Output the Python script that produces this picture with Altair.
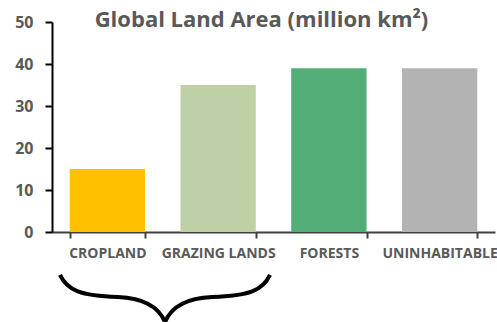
import altair as alt
import pandas as pd

categories = ["CROPLAND", "GRAZING LANDS", "FORESTS", "UNINHABITABLE"]
values = [15, 35, 39, 39]
colors = ["#FFC000", "#C0D0A6", "#52AE76", "#B3B3B3"]
y_ticks = [0, 10, 20, 30, 40, 50]
title_text = "Global Land Area (million km²)"

df = pd.DataFrame({"category": categories, "area": values})

FONT = "Open Sans"
GRAY = "#595959"

bars = alt.Chart(df).mark_bar().encode(
    x=alt.X(
        "category:N",
        sort=categories,
        scale=alt.Scale(paddingInner=0.32, paddingOuter=0.16),
        axis=alt.Axis(
            title=None,
            labelAngle=0,
            labelFont=FONT,
            labelFontSize=14,
            labelFontWeight="bold",
            labelColor=GRAY,
            labelPadding=8,
            domainColor="#404040",
            domainWidth=2,
            tickColor="#404040",
            tickWidth=2,
            tickSize=6,
            tickBand="extent",
        ),
    ),
    y=alt.Y(
        "area:Q",
        scale=alt.Scale(domain=[0, 50]),
        axis=alt.Axis(
            title=None,
            values=y_ticks,
            grid=False,
            labelFont=FONT,
            labelFontSize=16,
            labelFontWeight="bold",
            labelColor=GRAY,
            labelPadding=12,
            domainColor="black",
            domainWidth=2,
            tickColor="black",
            tickWidth=2,
            tickSize=7,
        ),
    ),
    color=alt.Color(
        "category:N",
        scale=alt.Scale(domain=categories, range=colors),
        legend=None,
    ),
)

brace_path = (
    "M -1 -0.22 C -0.93 -0.07 -0.8 -0.02 -0.45 -0.01 "
    "C -0.2 0 -0.06 0.08 0 0.23 "
    "C 0.06 0.08 0.2 0 0.45 -0.01 "
    "C 0.8 -0.02 0.93 -0.07 1 -0.22"
)

brace = alt.Chart(pd.DataFrame({"k": [0]})).mark_point(
    shape=brace_path,
    size=210 * 210,
    filled=False,
    stroke="black",
    strokeWidth=4,
    opacity=1,
    clip=False,
).encode(
    x=alt.value(113),
    y=alt.value(276),
)

chart = alt.layer(bars, brace).properties(
    width=443,
    height=210,
    title=alt.TitleParams(
        text=title_text,
        font=FONT,
        fontSize=22,
        fontWeight="bold",
        color=GRAY,
        anchor="middle",
        dx=-12,
        offset=-18,
    ),
    autosize=alt.AutoSizeParams(type="none"),
    padding={"left": 52, "top": 22, "right": 2, "bottom": 90},
).configure_view(stroke=None)

chart.save("out.html", embed_options={"renderer": "svg", "actions": False})
